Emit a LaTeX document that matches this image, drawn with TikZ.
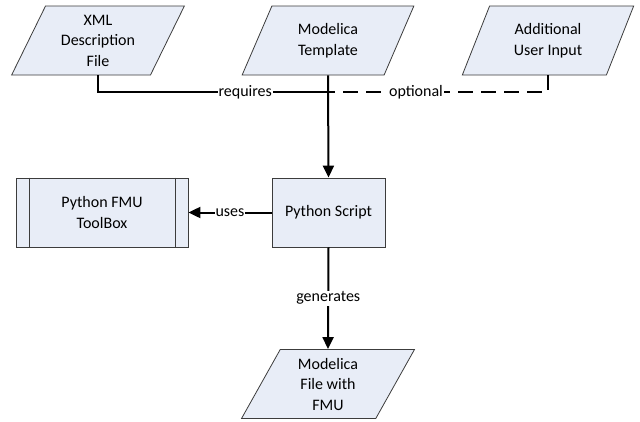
\documentclass[tikz,border=0pt]{standalone}
\usepackage{fontspec}
\setmainfont{Carlito}
\usetikzlibrary{shapes.geometric,arrows.meta}

\definecolor{boxfill}{RGB}{232,237,247}
\definecolor{boxline}{RGB}{60,60,60}

\tikzset{
  every node/.style={font=\fontsize{16}{20.5}\selectfont},
  databox/.style={trapezium, trapezium left angle=65, trapezium right angle=115,
    trapezium stretches=true, draw=boxline, fill=boxfill, line width=0.8pt,
    minimum width=173, minimum height=69, inner sep=0pt, align=center},
  procbox/.style={rectangle, draw=boxline, fill=boxfill, line width=0.8pt,
    minimum height=69, align=center},
  flow/.style={line width=2pt},
  flowarrow/.style={flow, -{Triangle[length=12pt,width=11pt]}},
  flowlabel/.style={fill=white, inner sep=1pt}
}

\begin{document}
\begin{tikzpicture}[x=1pt,y=-1pt]
      \useasboundingbox (0,0) rectangle (640,421);

      \node[databox] (xml) at (98,40.5) {XML\\Description\\File};
      \node[databox] (tpl) at (328,40.5) {Modelica\\Template};
      \node[databox] (add) at (548,40.5) {Additional\\User Input};
      \node[procbox,minimum width=113] (script) at (328.5,212.5) {Python Script};
      \node[procbox,minimum width=172] (tool) at (102,212.5) {Python FMU\\ToolBox};
      \node[databox] (out) at (328,384) {Modelica\\File with\\FMU};
      \coordinate (jn) at (328,92);

      \draw[boxline,line width=0.8pt] ([xshift=14pt]tool.north west) -- ([xshift=14pt]tool.south west);
      \draw[boxline,line width=0.8pt] ([xshift=-13pt]tool.north east) -- ([xshift=-13pt]tool.south east);

      \draw[flow] (xml.center |- xml.bottom side) |- (jn) node[pos=0.82,flowlabel] {requires};
      \draw[flow,dash pattern=on 15pt off 8pt] (add.center |- add.bottom side) |- (jn) node[pos=0.8,flowlabel] {optional};
      \draw[flowarrow] (tpl.center |- tpl.bottom side) -- (script.north);
      \draw[flowarrow] (script.west) -- (tool.east) node[midway,flowlabel] {uses};
      \draw[flowarrow] (script.south) -- (out.center |- out.top side) node[midway,flowlabel] {generates};
    \end{tikzpicture}
\end{document}
